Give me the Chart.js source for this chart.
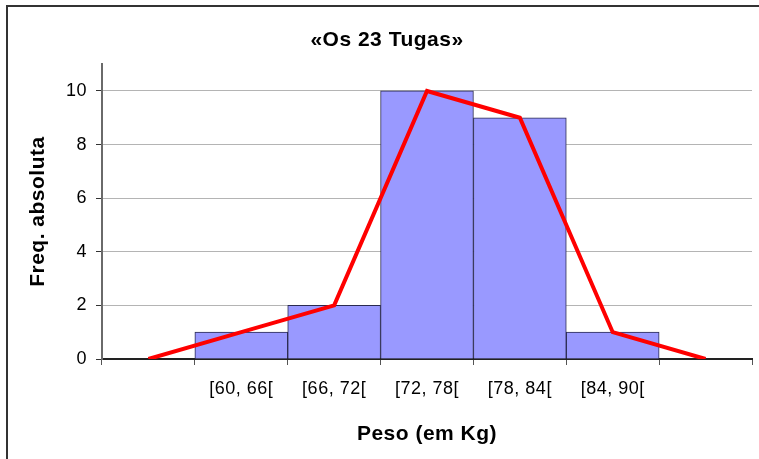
<!DOCTYPE html>
<html>
<head>
<meta charset="utf-8">
<title>«Os 23 Tugas»</title>
<script src="https://cdn.jsdelivr.net/npm/chart.js@4.4.1/dist/chart.umd.min.js"></script>
<style>
  body { margin: 0; background: #fff; }
  .wrap { position: relative; width: 759px; height: 459px; overflow: hidden; }
  .frame { position: absolute; left: 6px; top: 5px; width: 800px; height: 500px;
           border-top: 2px solid #333; border-left: 2px solid #333; }
  canvas { position: absolute; left: 0; top: 0; }
</style>
</head>
<body>
<div class="wrap">
  <div class="frame"></div>
  <canvas id="myChart" width="759" height="459"></canvas>
</div>
<script>
// classes de peso (com uma classe vazia em cada ponta para o polígono)
const classes = ['', '[60, 66[', '[66, 72[', '[72, 78[', '[78, 84[', '[84, 90[', ''];
const freqAbsoluta = [1, 2, 10, 9, 1];
const yTicks = [0, 2, 4, 6, 8, 10];

const barras = [null, ...freqAbsoluta, null];
const poligono = [0, ...freqAbsoluta, 0];

const fontFamily = "'Liberation Sans', Arial, sans-serif";

// Excel-like slightly wider text
const spacing = {
  id: 'spacing',
  beforeUpdate(chart) { chart.ctx.letterSpacing = '0.5px'; },
  beforeDraw(chart) { chart.ctx.letterSpacing = '0.5px'; }
};

new Chart(document.getElementById('myChart'), {
  type: 'bar',
  data: {
    labels: classes,
    datasets: [
      {
        type: 'line',
        label: 'Polígono de frequências',
        data: poligono,
        borderColor: '#ff0000',
        borderWidth: 4,
        pointRadius: 0,
        tension: 0,
        order: 0
      },
      {
        label: 'Freq. absoluta',
        data: barras,
        backgroundColor: '#9999ff',
        borderColor: '#2a2a50',
        borderWidth: 1,
        barPercentage: 1,
        categoryPercentage: 1,
        order: 1
      }
    ]
  },
  options: {
    responsive: false,
    animation: false,
    layout: {
      padding: { left: 22, right: 7, top: 8, bottom: 10 }
    },
    plugins: {
      legend: { display: false },
      tooltip: { enabled: false },
      title: {
        display: true,
        text: '«Os 23 Tugas»',
        color: '#000',
        font: { family: fontFamily, size: 21, weight: 'bold', lineHeight: 1.15 },
        padding: { top: 20, bottom: 12 }
      }
    },
    scales: {
      x: {
        afterFit(scale) { scale.height = 90; },
        grid: {
          drawOnChartArea: false,
          drawTicks: true,
          tickLength: 6,
          tickColor: '#555',
          offset: true
        },
        border: { color: '#222', width: 2 },
        ticks: {
          color: '#000',
          padding: 13,
          maxRotation: 0,
          autoSkip: false,
          font: { family: fontFamily, size: 18 }
        },
        title: {
          display: true,
          text: 'Peso (em Kg)',
          color: '#000',
          font: { family: fontFamily, size: 21, weight: 'bold', lineHeight: 1.15 },
          padding: { top: 0, bottom: 3 }
        }
      },
      y: {
        min: 0,
        max: 11,
        afterFit(scale) { scale.width = 80; },
        afterBuildTicks(scale) {
          scale.ticks = yTicks.map(v => ({ value: v }));
        },
        grid: {
          color: '#b4b4b4',
          lineWidth: 1,
          tickLength: 6,
          tickColor: '#333'
        },
        border: { color: '#6a6a6a', width: 2 },
        ticks: {
          color: '#000',
          padding: 9,
          font: { family: fontFamily, size: 18 }
        },
        title: {
          display: true,
          text: 'Freq. absoluta',
          color: '#000',
          font: { family: fontFamily, size: 21, weight: 'bold', lineHeight: 1.15 },
          padding: { top: 4, bottom: 0 }
        }
      }
    }
  },
  plugins: [spacing]
});
</script>
</body>
</html>
